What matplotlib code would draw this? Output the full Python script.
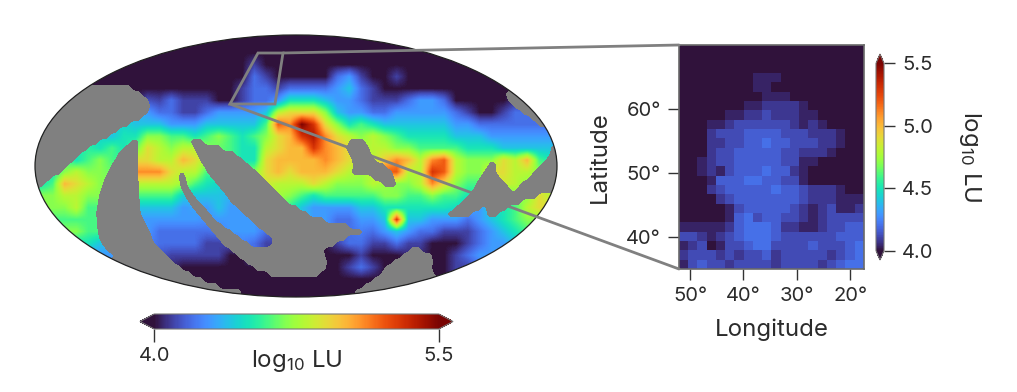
import numpy as np
import matplotlib
matplotlib.use("Agg")
import matplotlib.pyplot as plt
from matplotlib.patches import Ellipse, ConnectionPatch, Polygon

plt.rcParams['font.family'] = ['Inter', 'DejaVu Sans']
plt.rcParams['mathtext.default'] = 'regular'
plt.rcParams['text.color'] = '#2b2b2b'

W, H = 1017, 392
# Sky map: hex digit k means log10 LU = 4.0 + 0.1 k, '#' = hidden under the no-data mask
sky_rows = [
 "0000000000" "0000000000" "0000000000" "0000000000" "0000",
 "0000000000" "0000000000" "0000000000" "0000000000" "0000",
 "0000000000" "0000000010" "0000000000" "0000000000" "0000",
 "0000000000" "0000000021" "0000023100" "1000000000" "0000",
 "########00" "0000000122" "1222234210" "0000000000" "0000",
 "##########" "1211100122" "3555433211" "1233200000" "####",
 "#########3" "2211233334" "8999743322" "3333321001" "2222",
 "########44" "4333444446" "cbfd975654" "4444433222" "2222",
 "######4557" "7665676567" "9adeb98787" "6555544433" "3333",
 "#####565#9" "8788##6558" "9aadba##88" "7766665554" "4444",
 "###5676##9" "88a9####59" "aaaaba####" "ba8bc877#9" "8a6#",
 "#57877###b" "b9886####9" "a9aaa98###" "c88dc87##9" "88##",
 "56a987###8" "88#65#####" "888987778#" "778b976###" "87##",
 "77887####6" "66#444####" "#765666667" "7667665###" "#798",
 "77786####4" "443#343###" "##43333445" "55555####5" "6899",
 "66666####3" "3333#333##" "####322334" "d443332345" "6777",
 "77776####3" "22222#333#" "########23" "4322111234" "5666",
 "55555#####" "222211##21" "######2211" "2110001233" "4444",
 "333333####" "#111110###" "####000100" "0##0012333" "3333",
 "##########" "##000000##" "####001210" "###0011222" "2222",
 "##########" "####000000" "000000000#" "###0011111" "1111",
 "##########" "######0000" "0000000###" "##########" "####",
]
# No-data coverage: image row -> gaps along that row, in map pixels
gap_row_first, gap_row_step = 88, 6
gap_rows = [
 [(87, 130)],
 [(0, 140), (507, 600)],
 [(0, 147), (509, 600)],
 [(0, 149), (515, 600)],
 [(0, 147), (523, 600)],
 [(0, 140), (532, 600)],
 [(0, 128), (539, 600)],
 [(0, 117)],
 [(0, 108)],
 [(0, 97), (132, 137), (192, 202), (350, 364)],
 [(0, 87), (125, 137), (195, 220), (347, 368), (552, 600)],
 [(0, 79), (119, 137), (198, 234), (350, 370), (551, 600)],
 [(0, 73), (116, 137), (201, 242), (353, 374), (493, 495), (547, 600)],
 [(0, 66), (112, 137), (178, 179), (205, 249), (354, 384), (489, 495), (541, 600)],
 [(0, 60), (109, 137), (179, 182), (208, 256), (353, 391), (485, 495), (535, 600)],
 [(0, 50), (106, 137), (180, 185), (213, 262), (374, 393), (481, 499), (530, 600)],
 [(0, 43), (104, 138), (181, 186), (218, 268), (384, 395), (477, 505), (522, 600)],
 [(0, 36), (102, 138), (183, 189), (223, 274), (474, 510), (517, 600)],
 [(100, 138), (186, 193), (228, 280), (469, 536)],
 [(99, 139), (190, 198), (232, 286), (463, 520)],
 [(98, 139), (194, 204), (239, 297), (456, 480), (487, 506)],
 [(97, 140), (199, 209), (245, 307), (449, 470), (488, 497)],
 [(98, 143), (204, 214), (252, 323)],
 [(98, 146), (209, 222), (258, 347)],
 [(99, 149), (214, 231), (266, 361)],
 [(100, 151), (219, 239), (273, 345)],
 [(103, 154), (224, 248), (273, 334)],
 [(108, 160), (232, 323), (411, 420)],
 [(115, 166), (239, 324), (403, 431)],
 [(0, 172), (247, 326), (394, 432)],
 [(0, 180), (256, 325), (386, 431)],
 [(0, 190), (270, 318), (382, 433)],
 [(0, 202), (374, 600)],
 [(0, 217), (365, 600)],
 [(0, 240), (356, 600)],
]

# Inset: digit k means log10 LU = 4.0 + 0.04 k
inset_rows = [
 "00000000000000000000",
 "00000000000000000000",
 "00000000000000000000",
 "00000000111000000000",
 "00000000110000000000",
 "00000000011100000000",
 "00000001122221000000",
 "00000112232221100000",
 "00011233333321210000",
 "00023334444333222100",
 "00022334454433322100",
 "00023344444332221000",
 "00123344444331100000",
 "00121344454421000000",
 "00014445544331000000",
 "00023444445443222100",
 "00002344444443222111",
 "00000134444432123112",
 "00000145344332123333",
 "11111245554221123344",
 "33212345554333333444",
 "12301334553333433345",
 "23332323342333332345",
 "13433233332333323455",
]
lon_ticks = [50, 40, 30, 20]
lat_ticks = [40, 50, 60]
lon_limits = (52.06, 17.4)
lat_limits = (35.0, 70.0)
vmin, vmax = 4.0, 5.5
main_ticks = [4.0, 5.5]
side_ticks = [4.0, 4.5, 5.0, 5.5]

GRAY = '#808080'
TICK_SIZE, LABEL_SIZE = 14.5, 17.3

def decode(rows, step):
    out = np.full((len(rows), len(rows[0])), np.nan)
    for i, r in enumerate(rows):
        for j, ch in enumerate(r):
            if ch != '#':
                out[i, j] = 4.0 + step * int(ch, 16)
    return out

def fill_gaps(a):
    a = a.copy()
    while np.isnan(a).any():
        p = np.pad(a, 1, constant_values=np.nan)
        stack = np.stack([p[:-2, 1:-1], p[2:, 1:-1], p[1:-1, :-2], p[1:-1, 2:]])
        n = (~np.isnan(stack)).sum(0)
        s = np.nansum(stack, 0)
        fill = np.isnan(a) & (n > 0)
        a[fill] = s[fill] / n[fill]
    return a

def px_axes(fig, x0, y0, x1, y1, **kw):
    return fig.add_axes([x0 / W, 1 - y1 / H, (x1 - x0) / W, (y1 - y0) / H], **kw)

def to_data(px, py):
    return (px - 296) / 261, (166 - py) / 131

fig = plt.figure(figsize=(W / 100, H / 100), dpi=100)

# Main map
ax = px_axes(fig, 35, 35, 557, 297)
ax.set_xlim(-1, 1)
ax.set_ylim(-1, 1)
ax.axis('off')
sky = decode(sky_rows, 0.1)
clip = Ellipse((0, 0), 2, 2, transform=ax.transData)
im = ax.imshow(fill_gaps(sky), extent=[-1, 1, -1, 1], origin='upper', aspect='auto',
               cmap='turbo', vmin=vmin, vmax=vmax, interpolation='bilinear', zorder=1)
im.set_clip_path(clip)

# Rasterise the gaps along x and soften them so the contour joins row edges smoothly
xs = np.arange(0, 601)
gap = np.zeros((len(gap_rows) + 2, xs.size))
for i, spans in enumerate(gap_rows):
    for a, b in spans:
        gap[i + 1, (xs >= a) & (xs <= b)] = 1
gap[-1] = gap[-2]
kernel = np.ones(9) / 9
gap = np.array([np.convolve(np.pad(r, 4, mode='edge'), kernel, mode='valid') for r in gap])
ys = gap_row_first + gap_row_step * (np.arange(gap.shape[0]) - 1)
cs = ax.contourf((xs - 296) / 261, (166 - ys) / 131, gap, levels=[0.5, 1.5], colors=[GRAY], zorder=2)
cs.set_clip_path(clip)
ax.add_patch(Ellipse((0, 0), 2, 2, fill=False, ec='#222222', lw=0.9, zorder=3, clip_on=False))

box_px = [(258, 53), (283, 53), (275, 104), (230, 104)]
ax.add_patch(Polygon([to_data(*p) for p in box_px], closed=True, fill=False, ec=GRAY, lw=2, zorder=4))

# Inset
ins = px_axes(fig, 679, 45, 864, 269)
inset = decode(inset_rows, 0.04)
ins.imshow(inset, extent=[lon_limits[0], lon_limits[1], lat_limits[0], lat_limits[1]],
           origin='upper', aspect='auto', cmap='turbo', vmin=vmin, vmax=vmax, interpolation='nearest')
ins.set_xlim(*lon_limits)
ins.set_ylim(*lat_limits)
ins.set_xticks(lon_ticks, [f"{v}°" for v in lon_ticks])
ins.set_yticks(lat_ticks, [f"{v}°" for v in lat_ticks])
ins.tick_params(labelsize=TICK_SIZE, length=8, width=1, color='#333333', labelcolor='#2b2b2b', pad=5)
for s in ins.spines.values():
    s.set_color('#6a6a6a')
    s.set_linewidth(1.2)
fig.text(772 / W, 1 - 330 / H, "Longitude", fontsize=LABEL_SIZE, ha='center', va='center')
fig.text(600 / W, 1 - 157 / H, "Latitude", fontsize=LABEL_SIZE, ha='center', va='center', rotation=90)

for xyA, xyB in [(box_px[1], (0, 1)), (box_px[3], (0, 0))]:
    fig.add_artist(ConnectionPatch(xyA=to_data(*xyA), coordsA=ax.transData, xyB=xyB,
                                   coordsB=ins.transAxes, color=GRAY, lw=2, zorder=5))

# Colour bars
cax1 = px_axes(fig, 140, 314, 453, 329)
cb1 = fig.colorbar(im, cax=cax1, orientation='horizontal', extend='both', extendfrac=0.05, ticks=main_ticks)
cb1.ax.tick_params(length=9, width=1, color='#333333', labelsize=TICK_SIZE, pad=4, labelcolor='#2b2b2b')
cb1.ax.set_xticklabels([f"{v:.1f}" for v in main_ticks])
cb1.outline.set_edgecolor('#777777')
fig.text(297 / W, 1 - 361 / H, r"log$_{10}$ LU", fontsize=LABEL_SIZE, ha='center', va='center')

cax2 = px_axes(fig, 876, 54, 884, 260)
cb2 = fig.colorbar(im, cax=cax2, extend='both', extendfrac=0.05, ticks=side_ticks)
cb2.ax.tick_params(length=8, width=1, color='#333333', labelsize=TICK_SIZE, pad=5, labelcolor='#2b2b2b')
cb2.ax.set_yticklabels([f"{v:.1f}" for v in side_ticks])
cb2.outline.set_edgecolor('#777777')
fig.text(970 / W, 1 - 157 / H, r"log$_{10}$ LU", fontsize=LABEL_SIZE, ha='center', va='center', rotation=270)

fig.savefig("out.png", dpi=100)
